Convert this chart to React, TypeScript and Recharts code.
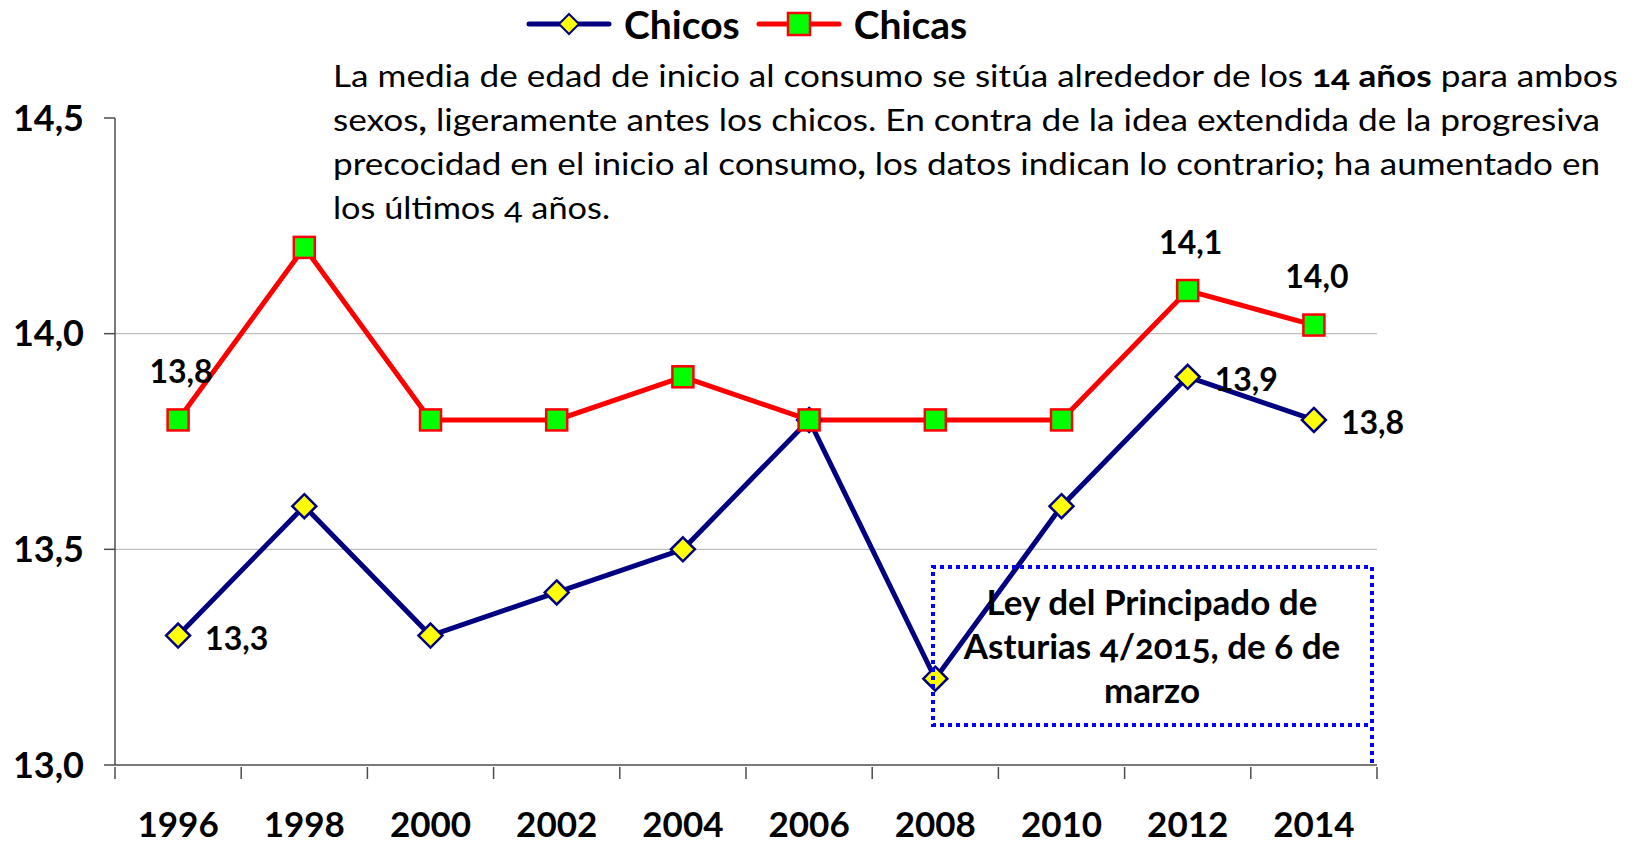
import { LineChart, Line, XAxis, YAxis, CartesianGrid, Legend, LabelList } from 'recharts';

const years = [1996, 1998, 2000, 2002, 2004, 2006, 2008, 2010, 2012, 2014];
const chicos = [13.3, 13.6, 13.3, 13.4, 13.5, 13.8, 13.2, 13.6, 13.9, 13.8];
const chicas = [13.8, 14.2, 13.8, 13.8, 13.9, 13.8, 13.8, 13.8, 14.1, 14.02];
const yTicks = [13, 13.5, 14, 14.5];
const gridValues = [13.5, 14];
const chicosLabelIdx = [0, 8, 9];
const chicasLabelIdx = [0, 8, 9];

const noteLines = [
  [{ t: 'La media de edad de inicio al consumo se sitúa alrededor de los ' }, { t: '14 años', b: true }, { t: ' para ambos' }],
  [{ t: 'sexos' }, { t: ',', b: true }, { t: ' ligeramente antes los chicos. En contra de la idea extendida de la progresiva' }],
  [{ t: 'precocidad en el inicio al consumo' }, { t: ',', b: true }, { t: ' los datos indican lo contrario' }, { t: ';', b: true }, { t: ' ha aumentado en' }],
  [{ t: 'los últimos 4 años.' }],
];
const lawLines = ['Ley del Principado de', 'Asturias 4/2015, de 6 de', 'marzo'];

// boundaries between the year categories (1995, 1997, ... 2015) carry the tick marks
const xTicks = [...years.flatMap((y) => [y - 1, y]), years[years.length - 1] + 1];

const data = years.map((year, i) => ({ year, chicos: chicos[i], chicas: chicas[i] }));

const FONT = "Lato, 'Open Sans', sans-serif";
const AXIS = '#4d4d4d';
const NAVY = '#000080';
const RED = '#ff0000';

const fmt = (v: number) => v.toFixed(1).replace('.', ',');

const XTick = (props: any) => {
  const { x, y, payload } = props;
  const v = payload.value;
  if (v % 2 === 1) {
    return <line x1={x} y1={y} x2={x} y2={y + 12} stroke={AXIS} strokeWidth={1.5} />;
  }
  return (
    <text x={x} y={y + 70} textAnchor="middle" fontSize={35} fontWeight={700} fontFamily={FONT} fill="#000">
      {v}
    </text>
  );
};

const diamond = (cx: number, cy: number, r: number) => `M${cx},${cy - r}L${cx + r},${cy}L${cx},${cy + r}L${cx - r},${cy}Z`;

const chicosDot = (p: any) => (
  <path key={`chicos-${p.index}`} d={diamond(p.cx, p.cy, 12)} fill="#ffff00" stroke={NAVY} strokeWidth={2.5} />
);

const chicasDot = (p: any) => (
  <rect key={`chicas-${p.index}`} x={p.cx - 10.5} y={p.cy - 10.5} width={21} height={21} fill="#00ff00" stroke={RED} strokeWidth={2.5} />
);

const idxOf = (p: any) => (p.index !== undefined ? p.index : years.indexOf(p.payload?.year));

const chicosLabel = (p: any) => {
  if (!chicosLabelIdx.includes(idxOf(p))) return null;
  return (
    <text x={p.x + 27} y={p.y + 14} textAnchor="start" fontSize={32} fontWeight={700} fontFamily={FONT} fill="#000">
      {fmt(Number(p.value))}
    </text>
  );
};

const chicasLabel = (p: any) => {
  if (!chicasLabelIdx.includes(idxOf(p))) return null;
  return (
    <text x={p.x + 3} y={p.y - 37} textAnchor="middle" fontSize={32} fontWeight={700} fontFamily={FONT} fill="#000">
      {fmt(Number(p.value))}
    </text>
  );
};

const legendItems = [
  { name: 'Chicos', color: NAVY, marker: 'diamond' },
  { name: 'Chicas', color: RED, marker: 'square' },
];

const renderLegend = () => (
  <div style={{ display: 'flex', alignItems: 'center', whiteSpace: 'nowrap' }}>
    {legendItems.map((it, i) => (
      <div key={it.name} style={{ display: 'flex', alignItems: 'center', marginLeft: i === 0 ? 0 : 16 }}>
        <svg width={86} height={30}>
          <line x1={3} y1={15} x2={83} y2={15} stroke={it.color} strokeWidth={5} strokeLinecap="round" />
          {it.marker === 'diamond' ? (
            <path d={diamond(43, 15, 10)} fill="#ffff00" stroke={NAVY} strokeWidth={2} />
          ) : (
            <rect x={32} y={4} width={22} height={22} fill="#00ff00" stroke={RED} strokeWidth={2.5} />
          )}
        </svg>
        <span style={{ marginLeft: 12, fontFamily: FONT, fontWeight: 700, fontSize: 39, color: '#000', lineHeight: '42px' }}>
          {it.name}
        </span>
      </div>
    ))}
  </div>
);

const noteWidths = [1285, 1267, 1267, 277];

export default function App() {
  return (
    <div style={{ position: 'absolute', left: 0, top: 0, width: 1640, height: 845, background: '#fff' }}>
      <LineChart width={1640} height={845} data={data} margin={{ top: 118, right: 263, bottom: 0, left: 0 }}>
        <CartesianGrid vertical={false} horizontalValues={gridValues} stroke="#bfbfbf" strokeWidth={1.3} />
        <XAxis
          dataKey="year"
          type="number"
          domain={[1995, 2015]}
          ticks={xTicks}
          interval={0}
          height={80}
          tickSize={0}
          tickLine={false}
          tick={XTick}
          axisLine={{ stroke: AXIS, strokeWidth: 1.5 }}
        />
        <YAxis
          type="number"
          domain={[13, 14.5]}
          ticks={yTicks}
          width={115}
          tickSize={11}
          tickMargin={20}
          tickFormatter={fmt}
          tick={{ fill: '#000', fontSize: 36, fontWeight: 700, fontFamily: FONT }}
          axisLine={{ stroke: AXIS, strokeWidth: 1.5 }}
          tickLine={{ stroke: AXIS, strokeWidth: 1.5 }}
        />
        <Legend
          layout="vertical"
          verticalAlign="middle"
          align="center"
          wrapperStyle={{ top: 3, left: 526, width: 'auto', height: 'auto' }}
          content={renderLegend}
        />
        <Line dataKey="chicos" name="Chicos" stroke={NAVY} strokeWidth={5} dot={chicosDot} activeDot={false} isAnimationActive={false}>
          <LabelList dataKey="chicos" content={chicosLabel} />
        </Line>
        <Line dataKey="chicas" name="Chicas" stroke={RED} strokeWidth={5} dot={chicasDot} activeDot={false} isAnimationActive={false}>
          <LabelList dataKey="chicas" content={chicasLabel} />
        </Line>
      </LineChart>
      <svg width={1640} height={845} style={{ position: 'absolute', left: 0, top: 0, pointerEvents: 'none' }}>
        {noteLines.map((segs, i) => (
          <text
            key={i}
            x={333}
            y={87 + i * 44}
            fontSize={30}
            fontFamily={FONT}
            fill="#000"
            textLength={noteWidths[i]}
            lengthAdjust="spacingAndGlyphs"
            style={{ whiteSpace: 'pre', fontVariantNumeric: 'oldstyle-nums' }}
          >
            {segs.map((s, j) => (
              <tspan key={j} fontWeight={s.b ? 700 : 400}>
                {s.t}
              </tspan>
            ))}
          </text>
        ))}
        <path d="M1372,763 L1372,567 L933,567 L933,725 L1372,725" fill="none" stroke="#0000ff" strokeWidth={4} strokeDasharray="4 4" />
        {lawLines.map((t, i) => (
          <text
            key={t}
            x={1152}
            y={615 + i * 44}
            textAnchor="middle"
            fontSize={35}
            fontWeight={700}
            fontFamily={FONT}
            fill="#000"
            style={{ fontVariantNumeric: 'oldstyle-nums' }}
          >
            {t}
          </text>
        ))}
      </svg>
    </div>
  );
}
